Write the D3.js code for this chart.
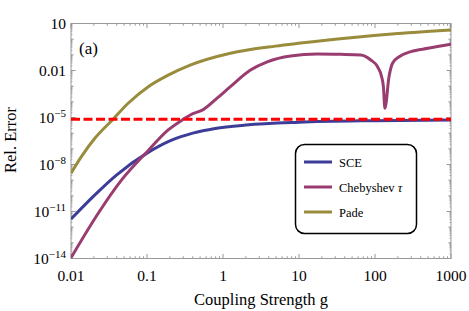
<!DOCTYPE html>
<html>
<head>
<meta charset="utf-8">
<script src="https://cdnjs.cloudflare.com/ajax/libs/d3/7.8.5/d3.min.js"></script>
<style>
    body { margin: 0; background: #fff; }
    svg { display: block; }
    text { font-family: "Liberation Serif", "DejaVu Serif", "Times New Roman", serif; }
</style>
</head>
<body>
<svg id="chart" width="469" height="311"></svg>
<script>
// values: coupling strength g and relative error
var sceG = [0.01, 0.02, 0.04, 0.1, 0.2, 0.4, 0.79, 2, 10, 100, 1000];
var sceErr = [3.3e-12, 1e-10, 2.2e-9, 5.3e-8, 3.2e-7, 1e-6, 2e-6, 3.3e-6, 5e-6, 6.3e-6, 7e-6];

var chebG = [0.01, 0.0234, 0.0461, 0.104, 0.19, 0.303, 0.371, 0.556, 0.836, 1.25, 2.3, 3.82, 7.74, 17.4, 35.4, 65,
    88, 108, 122, 129, 135, 153, 170, 208, 297, 497, 1000];
var chebErr = [1.1e-14, 9.3e-12, 1.0e-9, 7.9e-8, 1.6e-6, 7.9e-6, 1.45e-5, 3.3e-5, 1.7e-4, 9.3e-4, 0.0107, 0.036, 0.085, 0.112, 0.107, 0.098,
    0.047, 0.0174, 0.0041, 9.3e-4, 3.9e-5, 0.0041, 0.029, 0.076, 0.16, 0.26, 0.47];

var padeG = [0.01, 0.0137, 0.0206, 0.0358, 0.0565, 0.104, 0.19, 0.37, 1.25, 4.9, 10.5, 48, 200, 1000];
var padeErr = [2.8e-9, 3.2e-8, 4.7e-7, 7.8e-6, 8.1e-5, 9.3e-4, 5.1e-3, 0.022, 0.126, 0.36, 0.56, 1.25, 2.3, 3.9];

var thresholdErr = 7.8e-6;

var seriesNames = ['SCE', 'Chebyshev', 'Pade'];
var seriesColors = ['#3d3d99', '#993d71', '#998c3d'];

var xTickValues = [0.01, 0.1, 1, 10, 100, 1000];
var xTickLabels = ['0.01', '0.1', '1', '10', '100', '1000'];
var yTickValues = [10, 0.01, 1e-5, 1e-8, 1e-11, 1e-14];
var yTickBase = ['10', '0.01', '10', '10', '10', '10'];
var yTickExp = ['', '', '\u22125', '\u22128', '\u221211', '\u221214'];

var fontFamily = '"Liberation Serif", "DejaVu Serif", "Times New Roman", serif';
var margin = {left: 71, right: 18, top: 23.5, bottom: 52.5};
var width = 469 - margin.left - margin.right;
var height = 311 - margin.top - margin.bottom;

var svg = d3.select('#chart').attr('font-family', fontFamily);
var g = svg.append('g').attr('transform', 'translate(' + margin.left + ',' + margin.top + ')');

var x = d3.scaleLog().domain([0.01, 1000]).range([0, width]);
var y = d3.scaleLog().domain([1e-14, 10]).range([height, 0]);

svg.append('defs').append('clipPath').attr('id', 'plotClip')
    .append('rect').attr('width', width).attr('height', height);

// minor ticks: every multiple inside a decade
function minorValues (lo, hi) {
    var out = [];
    for (var e = lo; e < hi; e++) {
        for (var k = 2; k <= 9; k++) {
            out.push(k * Math.pow(10, e));
        }
    }
    return out;
}

function drawFrame () {
    var tickColor = '#7f7f7f';
    var xMinor = minorValues(-2, 3);
    var yDecades = d3.range(-14, 2).map(function (e) { return Math.pow(10, e); });
    var yMinor = minorValues(-14, 1);
    var ticks = g.append('g').attr('stroke', tickColor).attr('stroke-width', 0.8);

    function xTick (v, len) {
        var px = x(v);
        ticks.append('line').attr('x1', px).attr('x2', px).attr('y1', height).attr('y2', height - len);
        ticks.append('line').attr('x1', px).attr('x2', px).attr('y1', 0).attr('y2', len);
    }
    function yTick (v, len) {
        var py = y(v);
        ticks.append('line').attr('x1', 0).attr('x2', len).attr('y1', py).attr('y2', py);
        ticks.append('line').attr('x1', width).attr('x2', width - len).attr('y1', py).attr('y2', py);
    }

    xTickValues.forEach(function (v) { xTick(v, 4.5); });
    xMinor.forEach(function (v) { xTick(v, 2.2); });
    yTickValues.forEach(function (v) { yTick(v, 4.5); });
    yDecades.forEach(function (v) { if (yTickValues.indexOf(v) < 0) yTick(v, 2.6); });
    yMinor.forEach(function (v) { yTick(v, 1.4); });

    g.append('rect')
        .attr('width', width)
        .attr('height', height)
        .attr('fill', 'none')
        .attr('stroke', '#999')
        .attr('stroke-width', 1);

    g.append('g').selectAll('text')
        .data(xTickValues)
        .enter().append('text')
        .attr('x', function (d) { return x(d); })
        .attr('y', height + 22)
        .attr('font-family', fontFamily)
        .style('text-anchor', 'middle')
        .style('font-size', '15.5px')
        .style('fill', '#000')
        .text(function (d, i) { return xTickLabels[i]; });

    var yLabels = g.append('g').selectAll('text')
        .data(yTickValues)
        .enter().append('text')
        .attr('x', -5)
        .attr('y', function (d) { return y(d) + 5.5; })
        .attr('font-family', fontFamily)
        .style('text-anchor', 'end')
        .style('font-size', '15.5px')
        .style('fill', '#000');
    yLabels.append('tspan').text(function (d, i) { return yTickBase[i]; });
    yLabels.append('tspan')
        .attr('dy', -6.5)
        .style('font-size', '11px')
        .text(function (d, i) { return yTickExp[i]; });
}

function drawLines () {
    var line = d3.line()
        .x(function (d) { return x(d[0]); })
        .y(function (d) { return y(d[1]); })
        .curve(d3.curveMonotoneX);
    var plot = g.append('g').attr('clip-path', 'url(#plotClip)');
    var sets = [d3.zip(sceG, sceErr), d3.zip(chebG, chebErr), d3.zip(padeG, padeErr)];

    sets.forEach(function (data, i) {
        plot.append('path')
            .datum(data)
            .attr('d', line)
            .attr('fill', 'none')
            .attr('stroke', seriesColors[i])
            .attr('stroke-width', 3);
    });

    plot.append('line')
        .attr('x1', 0)
        .attr('x2', width)
        .attr('y1', y(thresholdErr))
        .attr('y2', y(thresholdErr))
        .attr('stroke', '#ff0000')
        .attr('stroke-width', 3)
        .attr('stroke-dasharray', '9,3.5');
}

function drawLegend () {
    var box = svg.append('g').attr('transform', 'translate(295,144)');
    box.append('rect')
        .attr('x', 0.5).attr('y', 0.5)
        .attr('width', 121).attr('height', 89)
        .attr('rx', 9).attr('ry', 9)
        .attr('fill', '#fff')
        .attr('stroke', '#000')
        .attr('stroke-width', 1.5);

    seriesNames.forEach(function (name, i) {
        var ly = 18 + i * 25;
        box.append('line')
            .attr('x1', 9).attr('x2', 37)
            .attr('y1', ly).attr('y2', ly)
            .attr('stroke', seriesColors[i])
            .attr('stroke-width', 3);
        var t = box.append('text')
            .attr('x', 44)
            .attr('y', ly + 4.5)
            .attr('font-family', fontFamily)
            .style('font-size', '12.5px')
            .style('fill', '#000')
            .text(name);
        if (name === 'Chebyshev') {
            t.append('tspan').text(' ');
            t.append('tspan').style('font-style', 'italic').text('\u03c4');
        }
    });
}

drawFrame();
drawLines();
drawLegend();

// panel tag and axis titles
svg.append('text')
    .attr('x', 79)
    .attr('y', 53.5)
    .attr('font-family', fontFamily)
    .style('font-size', '17px')
    .text('(a)');

svg.append('text')
    .attr('x', margin.left + width / 2)
    .attr('y', 305)
    .attr('font-family', fontFamily)
    .style('text-anchor', 'middle')
    .style('font-size', '16.5px')
    .text('Coupling Strength g');

svg.append('text')
    .attr('transform', 'translate(16,140) rotate(-90)')
    .attr('font-family', fontFamily)
    .style('text-anchor', 'middle')
    .style('font-size', '16.5px')
    .text('Rel. Error');
</script>
</body>
</html>
